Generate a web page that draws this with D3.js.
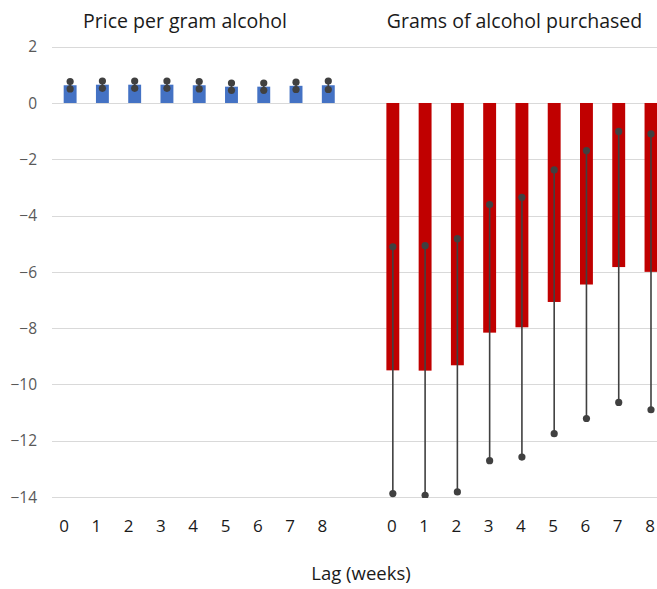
<!DOCTYPE html>
<html>
<head>
<meta charset="utf-8">
<script src="https://cdn.jsdelivr.net/npm/d3@7"></script>
<style>
  html, body { margin: 0; padding: 0; background: #fff; }
  svg { display: block; font-family: "Open Sans", "Noto Sans", sans-serif; }
</style>
</head>
<body>
<svg id="chart" width="657" height="589"></svg>
<script>
// Lags shown in each panel
const lags = ["0", "1", "2", "3", "4", "5", "6", "7", "8"];

// Price per gram alcohol: estimate with 95% CI
const priceValue = [0.63, 0.65, 0.65, 0.65, 0.63, 0.58, 0.58, 0.61, 0.63];
const priceUpper = [0.76, 0.78, 0.78, 0.78, 0.76, 0.71, 0.71, 0.74, 0.78];
const priceLower = [0.50, 0.52, 0.52, 0.52, 0.50, 0.45, 0.45, 0.48, 0.48];

// Grams of alcohol purchased: estimate with 95% CI
const gramsValue = [-9.50, -9.51, -9.32, -8.16, -7.97, -7.07, -6.45, -5.83, -6.00];
const gramsUpper = [-5.11, -5.07, -4.82, -3.61, -3.35, -2.38, -1.69, -1.01, -1.10];
const gramsLower = [-13.88, -13.94, -13.82, -12.71, -12.58, -11.75, -11.21, -10.64, -10.90];

// Y axis ticks
const yTicks = [2, 0, -2, -4, -6, -8, -10, -12, -14];

const panelTitles = ["Price per gram alcohol", "Grams of alcohol purchased"];
const xTitle = "Lag (weeks)";

const svg = d3.select("#chart");
const W = 657;

// One shared band axis: nine slots, one empty spacer, nine slots
const slots = [...lags.map(d => "p" + d), "gap", ...lags.map(d => "g" + d)];
const x = d3.scaleBand().domain(slots).range([54, 54 + 19 * 32.27]).paddingInner(0.6).paddingOuter(0.3);
const y = d3.scaleLinear().domain([-14, 2]).range([497, 46.7]);

// Gridlines
svg.append("g")
  .selectAll("line")
  .data(yTicks)
  .join("line")
  .attr("x1", 52).attr("x2", W)
  .attr("y1", d => Math.round(y(d)) + 0.5).attr("y2", d => Math.round(y(d)) + 0.5)
  .attr("stroke", "#d9d9d9").attr("stroke-width", 1);

// Y tick labels
const yAxis = d3.axisLeft(y).tickValues(yTicks).tickSize(0).tickPadding(0).tickFormat(d3.format("d"));
const yG = svg.append("g").attr("transform", "translate(37,0)").call(yAxis);
yG.select(".domain").remove();
yG.selectAll("text").attr("fill", "#595959").style("font-size", "15.5px")
  .style("font-family", "'Open Sans', sans-serif").attr("dy", "0.34em");

svg.append("defs").append("clipPath").attr("id", "plot")
  .append("rect").attr("x", 0).attr("y", 0).attr("width", W).attr("height", y(-14) + 1);

const plot = svg.append("g").attr("clip-path", "url(#plot)");

function drawPanel(prefix, values, upper, lower, color) {
  const rows = lags.map((l, i) => ({ key: prefix + l, v: values[i], hi: upper[i], lo: lower[i] }));
  const g = plot.append("g");
  g.selectAll("rect")
    .data(rows)
    .join("rect")
    .attr("x", d => x(d.key))
    .attr("width", x.bandwidth())
    .attr("y", d => y(Math.max(0, d.v)))
    .attr("height", d => Math.abs(y(d.v) - y(0)))
    .attr("fill", color);
  g.selectAll("line.err")
    .data(rows)
    .join("line")
    .attr("class", "err")
    .attr("x1", d => x(d.key) + x.bandwidth() / 2)
    .attr("x2", d => x(d.key) + x.bandwidth() / 2)
    .attr("y1", d => y(d.hi))
    .attr("y2", d => y(d.lo))
    .attr("stroke", "#404040").attr("stroke-width", 1.6);
  const ends = rows.flatMap(d => [{ key: d.key, v: d.hi }, { key: d.key, v: d.lo }]);
  g.selectAll("circle")
    .data(ends)
    .join("circle")
    .attr("cx", d => x(d.key) + x.bandwidth() / 2)
    .attr("cy", d => y(d.v))
    .attr("r", 3.6)
    .attr("fill", "#404040");
}

drawPanel("p", priceValue, priceUpper, priceLower, "#4472C4");
drawPanel("g", gramsValue, gramsUpper, gramsLower, "#C00000");

// X tick labels, one axis per panel
function xLabels(prefix, dx) {
  const ax = d3.axisBottom(x).tickValues(lags.map(l => prefix + l))
    .tickFormat(k => k.slice(1)).tickSize(0).tickPadding(0);
  const g = svg.append("g").attr("transform", `translate(${dx},532)`).call(ax);
  g.select(".domain").remove();
  g.selectAll("text").attr("fill", "#1a1a1a").attr("dy", 0).style("font-size", "17px")
    .style("font-family", "'Open Sans', sans-serif");
}
xLabels("p", -6);
xLabels("g", -1);

// Panel titles
const titleX = [185, 514.5];
svg.append("g").selectAll("text")
  .data(panelTitles)
  .join("text")
  .attr("x", (d, i) => titleX[i])
  .attr("y", 28)
  .attr("text-anchor", "middle")
  .attr("fill", "#1a1a1a")
  .style("font-size", "19.5px")
  .text(d => d);

// Axis title
svg.append("text")
  .attr("x", 361).attr("y", 580)
  .attr("text-anchor", "middle")
  .attr("fill", "#1a1a1a")
  .style("font-size", "18.5px")
  .text(xTitle);
</script>
</body>
</html>
